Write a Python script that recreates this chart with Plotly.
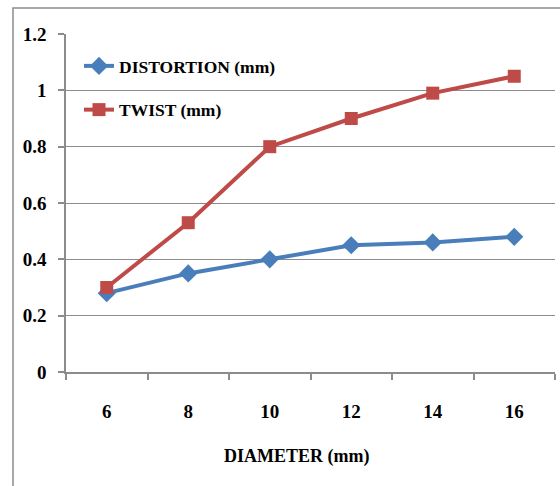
import plotly.graph_objects as go

diameters = ["6", "8", "10", "12", "14", "16"]
distortion = [0.28, 0.35, 0.40, 0.45, 0.46, 0.48]
twist = [0.30, 0.53, 0.80, 0.90, 0.99, 1.05]
y_ticks = [0, 0.2, 0.4, 0.6, 0.8, 1.0, 1.2]

FONT = "'Liberation Serif', 'Times New Roman', serif"
BLUE = "#4A7EBB"
RED = "#BE4B48"

W, H = 560, 486
L, R, T, B = 66, 5, 34, 114
pw = W - L - R
ph = H - T - B

fig = go.Figure()
fig.add_trace(go.Scatter(
    x=diameters, y=distortion, mode="lines+markers", name="DISTORTION (mm)",
    legendgroup="a",
    line=dict(color=BLUE, width=4),
    marker=dict(symbol="diamond", size=14, color=BLUE),
))
fig.add_trace(go.Scatter(
    x=diameters, y=twist, mode="lines+markers", name="TWIST (mm)",
    legendgroup="b",
    line=dict(color=RED, width=4),
    marker=dict(symbol="square", size=13, color=RED),
))

def px_x(px):
    return (px - L) / pw

def px_y(py):
    return (H - B - py) / ph

fig.add_shape(type="rect", xref="paper", yref="paper",
              x0=px_x(13), x1=px_x(600), y0=px_y(600), y1=px_y(8),
              line=dict(color="#8c8c8c", width=1.5), layer="below")

fig.add_annotation(text="<b>DIAMETER (mm)</b>", xref="paper", yref="paper",
                   x=px_x(297), y=px_y(456), showarrow=False,
                   font=dict(family=FONT, size=18, color="black"),
                   xanchor="center", yanchor="middle")

fig.update_layout(
    width=W, height=H,
    margin=dict(l=L, r=R, t=T, b=B, pad=0),
    paper_bgcolor="white", plot_bgcolor="white",
    font=dict(family=FONT, color="black"),
    showlegend=True,
    legend=dict(
        x=px_x(79), y=px_y(48), xanchor="left", yanchor="top",
        bgcolor="rgba(0,0,0,0)",
        font=dict(family=FONT, size=17.5, color="black", weight="bold"),
        tracegroupgap=18,
        itemwidth=30,
    ),
    xaxis=dict(
        type="category", range=[-0.5, 5.5],
        showline=True, linecolor="#8c8c8c", linewidth=1.5,
        ticks="outside", tickson="boundaries", ticklen=6, tickcolor="#8c8c8c",
        tickwidth=1.5,
        showgrid=False,
        tickfont=dict(family=FONT, size=19, color="black", weight="bold"),
        ticklabelstandoff=21,
    ),
    yaxis=dict(
        range=[0, 1.2], tickvals=y_ticks,
        ticktext=["0", "0.2", "0.4", "0.6", "0.8", "1", "1.2"],
        showline=True, linecolor="#8c8c8c", linewidth=1.5,
        ticks="outside", ticklen=6, tickcolor="#8c8c8c", tickwidth=1.5,
        showgrid=True, gridcolor="#8c8c8c", gridwidth=1.2,
        zeroline=False,
        tickfont=dict(family=FONT, size=19, color="black", weight="bold"),
        ticklabelstandoff=8,
    ),
)

fig.write_html("out.html")
